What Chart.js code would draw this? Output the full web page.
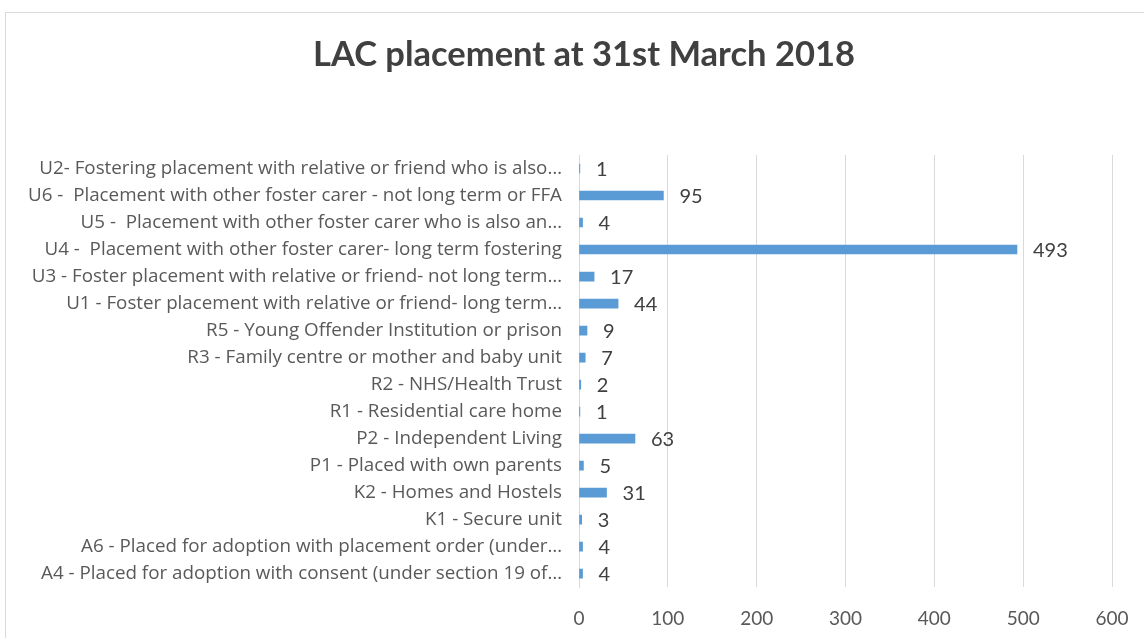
<!DOCTYPE html>
<html lang="en">
<head>
  <meta charset="UTF-8" />
  <title>LAC placement at 31st March 2018</title>
  <script src="https://cdn.jsdelivr.net/npm/chart.js"></script>
  <style>
    html, body { margin: 0; padding: 0; background: #fff; }
    #wrap { width: 1144px; height: 638px; }
  </style>
</head>
<body>
  <div id="wrap"><canvas id="lacChart" width="1144" height="638"></canvas></div>

  <script>
    const categories = [
      'U2- Fostering placement with relative or friend who is also…',
      'U6 -  Placement with other foster carer - not long term or FFA',
      'U5 -  Placement with other foster carer who is also an…',
      'U4 -  Placement with other foster carer- long term fostering',
      'U3 - Foster placement with relative or friend- not long term…',
      'U1 - Foster placement with relative or friend- long term…',
      'R5 - Young Offender Institution or prison',
      'R3 - Family centre or mother and baby unit',
      'R2 - NHS/Health Trust',
      'R1 - Residential care home',
      'P2 - Independent Living',
      'P1 - Placed with own parents',
      'K2 - Homes and Hostels',
      'K1 - Secure unit',
      'A6 - Placed for adoption with placement order (under…',
      'A4 - Placed for adoption with consent (under section 19 of…'
    ];
    const placements = [1, 95, 4, 493, 17, 44, 9, 7, 2, 1, 63, 5, 31, 3, 4, 4];
    const xTicks = [0, 100, 200, 300, 400, 500, 600];
    const chartTitle = 'LAC placement at 31st March 2018';

    const FONT = 'Lato, "Open Sans", sans-serif';
    const LABEL_FONT = '"Open Sans", Lato, sans-serif';

    // grey frame round the whole chart + the title (the office chart centres it on its wider frame)
    const frame = {
      id: 'frame',
      beforeDraw(chart) {
        const c = chart.ctx;
        c.save();
        c.fillStyle = '#fff';
        c.fillRect(0, 0, chart.width, chart.height);
        c.strokeStyle = '#d9d9d9';
        c.lineWidth = 1;
        c.strokeRect(5.5, 12.5, chart.width + 10, chart.height + 10);
        c.font = 'bold 34.5px ' + FONT;
        c.fillStyle = '#404040';
        c.textAlign = 'center';
        c.textBaseline = 'middle';
        c.fillText(chartTitle, 584, 55);
        c.restore();
      }
    };

    // value labels just past the end of each bar
    const valueLabels = {
      id: 'valueLabels',
      afterDatasetsDraw(chart) {
        const c = chart.ctx;
        const meta = chart.getDatasetMeta(0);
        c.save();
        c.font = '20px ' + FONT;
        c.fillStyle = '#404040';
        c.textAlign = 'left';
        c.textBaseline = 'middle';
        meta.data.forEach((bar, i) => {
          c.fillText(String(placements[i]), bar.x + 16, bar.y + 1);
        });
        c.restore();
      }
    };

    new Chart(document.getElementById('lacChart'), {
      type: 'bar',
      data: {
        labels: categories,
        datasets: [{
          data: placements,
          backgroundColor: '#5b9bd5',
          barThickness: 9
        }]
      },
      plugins: [frame, valueLabels],
      options: {
        indexAxis: 'y',
        responsive: false,
        animation: false,
        layout: { padding: { left: 5, right: 32, top: 155, bottom: -12 } },
        plugins: {
          legend: { display: false },
          tooltip: { enabled: false },
          title: { display: false }
        },
        scales: {
          x: {
            min: 0,
            max: 600,
            afterBuildTicks(scale) { scale.ticks = xTicks.map(v => ({ value: v })); },
            afterFit(scale) { scale.paddingRight = 0; },
            grid: { color: '#d9d9d9', drawTicks: false },
            border: { display: false },
            ticks: { color: '#595959', font: { family: FONT, size: 19 }, padding: 20 }
          },
          y: {
            grid: { display: false },
            border: { display: true, color: '#d9d9d9' },
            afterFit(scale) { scale.width = 574; },
            ticks: {
              color: '#595959',
              font: { family: LABEL_FONT, size: 18.8 },
              padding: 9,
              autoSkip: false
            }
          }
        }
      }
    });
  </script>
</body>
</html>
